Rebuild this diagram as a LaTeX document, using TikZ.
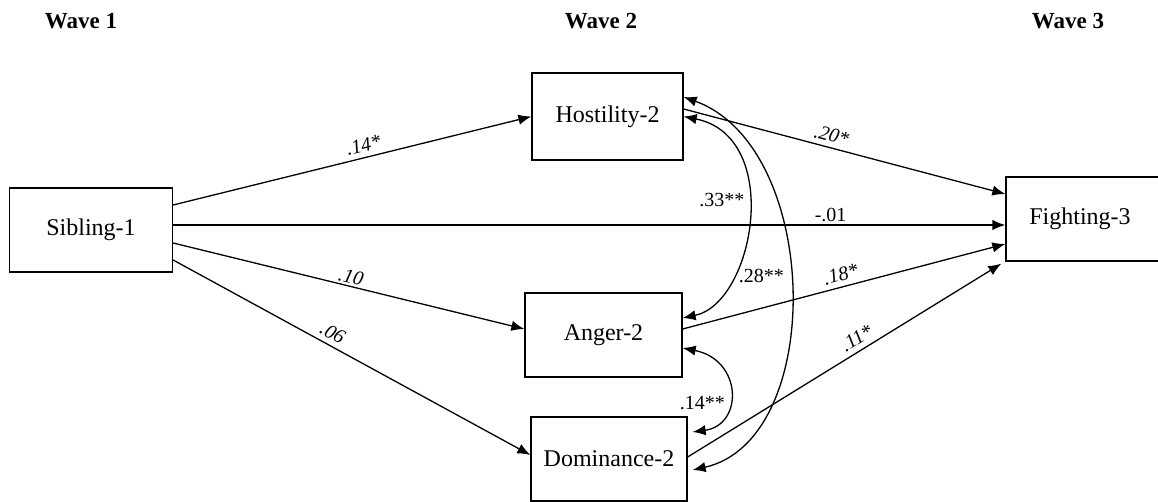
\documentclass[tikz,border=0pt]{standalone}
\usepackage{fontspec}
\setmainfont{Liberation Serif}
\usepackage{tikz}
\usetikzlibrary{positioning, arrows.meta}

\tikzset{
    var/.style={draw, line width=0.65pt, rectangle, font=\fontsize{12}{14}\selectfont, inner sep=0pt},
    path/.style={line width=0.65pt, -{Latex[length=6.5pt, width=5.2pt]}},
    cov/.style={line width=0.65pt, {Latex[length=6.5pt, width=5.2pt]}-{Latex[length=6.5pt, width=5.2pt]}},
    coef/.style={font=\fontsize{10}{12}\selectfont\itshape, sloped, above, inner sep=2.5pt},
    corr/.style={font=\fontsize{10}{12}\selectfont, inner sep=1.5pt},
    wave/.style={font=\fontsize{11.5}{13}\selectfont\bfseries}
}

\begin{document}
\begin{tikzpicture}[x=0.5pt, y=-0.5pt]
            \useasboundingbox (0,0) rectangle (1158,502);
            % waves
            \node[wave] (w1) at (81,21) {Wave 1};
            \node[wave] (w2) at (601,21) {Wave 2};
            \node[wave] (w3) at (1068,21) {Wave 3};
            % variables
            \node[var, minimum width=81.5pt, minimum height=42pt] (sib) at (91,230) {Sibling-1};
            \node[var, minimum width=75.5pt, minimum height=43.5pt] (hos) at (607.5,116.5) {Hostility-2};
            \node[var, minimum width=78.5pt, minimum height=42pt] (ang) at (603.5,335) {Anger-2};
            \node[var, minimum width=78pt, minimum height=42pt] (dom) at (609,459) {Dominance-2};
            \node[var, minimum width=77pt, minimum height=42pt] (fig) at (1083,219) {\hspace*{-3pt}Fighting-3};
            % paths from wave 1
            \draw[path] ([yshift=12.5pt]sib.east) -- node[coef, pos=0.54] {.14*} (hos.west);
            \draw[path] ([yshift=2.5pt]sib.east) -- node[corr, above, pos=0.79] {-.01} ([yshift=-3pt]fig.west);
            \draw[path] ([yshift=-6.5pt]sib.east) -- node[coef, pos=0.5, inner sep=1pt] {.10} ([yshift=3pt]ang.west);
            \draw[path] ([yshift=-15pt]sib.east) -- node[coef, pos=0.43] {.06} ([yshift=2pt]dom.west);
            % paths to wave 3
            \draw[path] ([yshift=3.75pt]hos.east) -- node[coef, pos=0.45] {.20*} ([yshift=12.5pt]fig.west);
            \draw[path] ([yshift=3pt]ang.east) -- node[coef, pos=0.5] {.18*} ([yshift=-12.5pt]fig.west);
            \draw[path] ([yshift=1pt]dom.east) -- node[coef, pos=0.56] {.11*} ([xshift=-2pt, yshift=-1pt]fig.south west);
            % residual correlations
            \draw[cov] ([yshift=9.75pt]hos.east) .. controls +(138,50) and +(134,-30) .. node[corr, left, pos=0.47, inner sep=2.5pt] {.28**} ([xshift=2.5pt, yshift=-5.5pt]dom.east);
            \draw[cov] (hos.east) .. controls +(100,20) and +(72,-15) .. node[corr, left, pos=0.43] {.33**} ([yshift=8.5pt]ang.east);
            \draw[cov] ([yshift=-6.5pt]ang.east) .. controls +(60,12) and +(51,-7) .. node[corr, left, pos=0.6] {.14**} ([xshift=2.5pt, yshift=13.5pt]dom.east);
        \end{tikzpicture}
\end{document}
